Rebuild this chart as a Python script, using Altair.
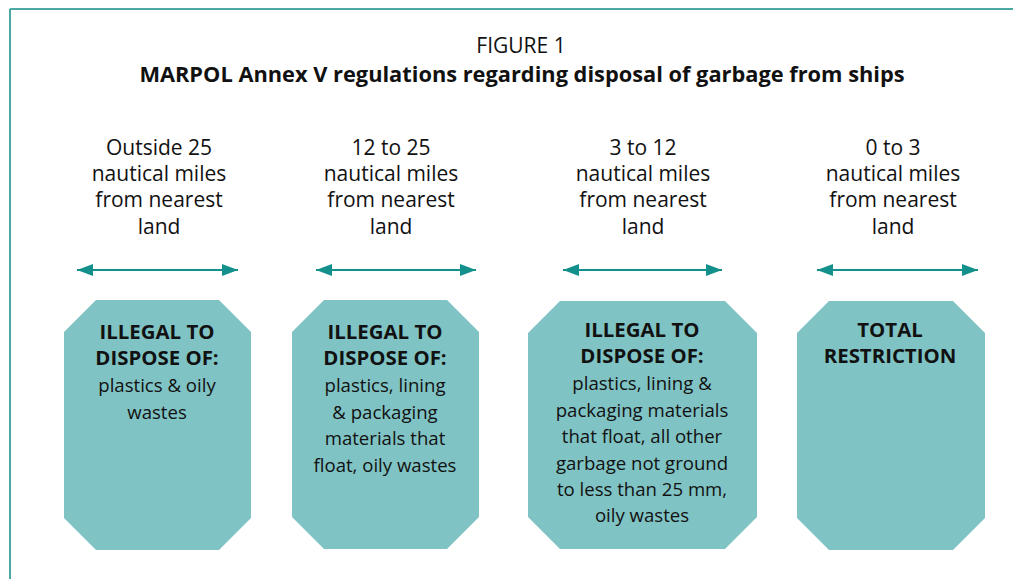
import altair as alt
import pandas as pd

# ---- content ----
fig_label = "FIGURE 1"
fig_title = "MARPOL Annex V regulations regarding disposal of garbage from ships"
zone_headers = [
    ["Outside 25", "nautical miles", "from nearest", "land"],
    ["12 to 25", "nautical miles", "from nearest", "land"],
    ["3 to 12", "nautical miles", "from nearest", "land"],
    ["0 to 3", "nautical miles", "from nearest", "land"],
]
box_titles = [
    ["ILLEGAL TO", "DISPOSE OF:"],
    ["ILLEGAL TO", "DISPOSE OF:"],
    ["ILLEGAL TO", "DISPOSE OF:"],
    ["TOTAL", "RESTRICTION"],
]
box_bodies = [
    ["plastics & oily", "wastes"],
    ["plastics, lining", "& packaging", "materials that", "float, oily wastes"],
    ["plastics, lining &", "packaging materials", "that float, all other",
     "garbage not ground", "to less than 25 mm,", "oily wastes"],
    [],
]

# ---- layout (page pixels) ----
header_x = [159, 391, 643, 893]
header_base = 154.5
arrow_left = [77, 316, 563, 817]
arrow_right = [238, 476, 722, 978]
arrow_y = 270
box_left = [64, 292, 528, 797]
box_right = [251, 479, 757, 985]
box_top = [300, 300, 301, 301]
box_bottom = [550, 549, 549, 550]
corner = 32
box_text_x = [157, 385, 642, 890]
title_base = [339, 339, 337, 337]
line_h = 26.4

FONT = "Open Sans"
FILL = "#80c3c4"
TEAL = "#13908b"
BORDER = "#4aa9a3"
INK = "#111111"

X = alt.X("x:Q", scale=alt.Scale(domain=[8, 1013]), axis=None)
Y = alt.Y("y:Q", scale=alt.Scale(domain=[8, 579], reverse=True), axis=None)

# octagons as areas
oct_rows = []
for i in range(4):
    L, R, T, B = box_left[i], box_right[i], box_top[i], box_bottom[i]
    for xx, yt, yb in [(L, T + corner, B - corner), (L + corner, T, B),
                       (R - corner, T, B), (R, T + corner, B - corner)]:
        oct_rows.append({"box": i, "x": xx, "y": yt, "y2": yb})
octs = alt.Chart(pd.DataFrame(oct_rows)).mark_area(
    orient="vertical", color=FILL, opacity=1
).encode(x=X, y=Y, y2="y2:Q", detail="box:N")

# border
border_df = pd.DataFrame([
    {"x": 10, "y": 9, "x2": 1013, "y2": 9},
    {"x": 10, "y": 9, "x2": 10, "y2": 579},
])
border = alt.Chart(border_df).mark_rule(color=BORDER, strokeWidth=2).encode(
    x=X, y=Y, x2="x2:Q", y2="y2:Q")

# arrows
arr_df = pd.DataFrame({"x": arrow_left, "x2": arrow_right, "y": [arrow_y] * 4})
arr_lines = alt.Chart(arr_df).mark_rule(color=TEAL, strokeWidth=2).encode(
    x=X, x2="x2:Q", y=Y)
right_head = "M0,0 L-2,-0.75 L-2,0.75 Z"
left_head = "M0,0 L2,-0.75 L2,0.75 Z"
heads_r = alt.Chart(pd.DataFrame({"x": arrow_right, "y": [arrow_y] * 4})).mark_point(
    shape=right_head, filled=True, color=TEAL, size=256, opacity=1, strokeWidth=0
).encode(x=X, y=Y)
heads_l = alt.Chart(pd.DataFrame({"x": arrow_left, "y": [arrow_y] * 4})).mark_point(
    shape=left_head, filled=True, color=TEAL, size=256, opacity=1, strokeWidth=0
).encode(x=X, y=Y)

# texts
hdr_rows = []
for i, lines in enumerate(zone_headers):
    for j, t in enumerate(lines):
        hdr_rows.append({"x": header_x[i], "y": header_base + j * line_h, "t": t})
headers = alt.Chart(pd.DataFrame(hdr_rows)).mark_text(
    font=FONT, fontSize=21, color=INK, baseline="alphabetic", align="center"
).encode(x=X, y=Y, text="t:N")

bt_rows, bb_rows = [], []
for i in range(4):
    for j, t in enumerate(box_titles[i]):
        bt_rows.append({"x": box_text_x[i], "y": title_base[i] + j * line_h, "t": t})
    start = title_base[i] + len(box_titles[i]) * line_h + 0.5
    for j, t in enumerate(box_bodies[i]):
        bb_rows.append({"x": box_text_x[i], "y": start + j * line_h, "t": t})
btitles = alt.Chart(pd.DataFrame(bt_rows)).mark_text(
    font=FONT, fontSize=20.4, fontWeight="bold", color=INK, baseline="alphabetic", align="center"
).encode(x=X, y=Y, text="t:N")
bbodies = alt.Chart(pd.DataFrame(bb_rows)).mark_text(
    font=FONT, fontSize=18.6, color=INK, baseline="alphabetic", align="center"
).encode(x=X, y=Y, text="t:N")

ttl_df = pd.DataFrame([
    {"x": 521, "y": 53, "t": fig_label},
    {"x": 522, "y": 82, "t": fig_title},
])
ttl1 = alt.Chart(ttl_df.iloc[[0]]).mark_text(
    font=FONT, fontSize=21, color=INK, baseline="alphabetic", align="center"
).encode(x=X, y=Y, text="t:N")
ttl2 = alt.Chart(ttl_df.iloc[[1]]).mark_text(
    font=FONT, fontSize=21.8, fontWeight="bold", color=INK, baseline="alphabetic", align="center"
).encode(x=X, y=Y, text="t:N")

chart = alt.layer(
    border, octs, arr_lines, heads_r, heads_l, headers, btitles, bbodies, ttl1, ttl2
).properties(
    width=1005, height=571, padding=0, background="white",
    autosize=alt.AutoSizeParams(type="none")
).configure_view(stroke=None)

chart.save("out.html", embed_options={"renderer": "svg", "actions": False})
